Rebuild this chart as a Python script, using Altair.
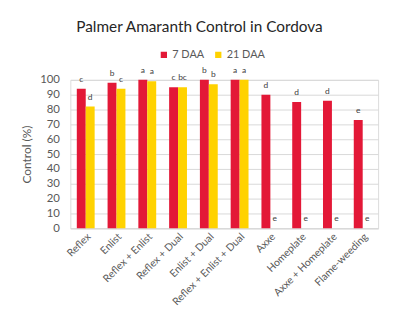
import altair as alt
import pandas as pd

treatments = ["Reflex", "Enlist", "Reflex + Enlist", "Reflex + Dual", "Enlist + Dual",
              "Reflex + Enlist + Dual", "Axxe", "Homeplate", "Axxe + Homeplate", "Flame-weeding"]
series = ["7 DAA", "21 DAA"]
daa7 = [94, 98, 100, 95, 100, 100, 90, 85, 86, 73]
daa21 = [82, 94, 99, 95, 97, 100, 0, 0, 0, 0]
letters7 = ["c", "b", "a", "c", "b", "a", "d", "d", "d", "e"]
letters21 = ["d", "c", "a", "bc", "b", "a", "e", "e", "e", "e"]
colors = ["#E31837", "#FFD200"]

rows = []
for i, t in enumerate(treatments):
    rows.append({"treatment": t, "series": series[0], "value": daa7[i], "letter": letters7[i]})
    rows.append({"treatment": t, "series": series[1], "value": daa21[i], "letter": letters21[i]})
df = pd.DataFrame(rows)

FONT = "Lato"

x = alt.X("treatment:N", sort=treatments, title=None,
          scale=alt.Scale(paddingInner=0.42, paddingOuter=0.21),
          axis=alt.Axis(labelAngle=-45, labelAlign="right", labelBaseline="top",
                        labelFontSize=10.5, labelColor="#595959", labelFont=FONT,
                        domainColor="#d9d9d9", ticks=False, labelPadding=3))
xo = alt.XOffset("series:N", sort=series, scale=alt.Scale(paddingInner=0, paddingOuter=0))
y = alt.Y("value:Q", title="Control (%)",
          scale=alt.Scale(domain=[0, 100]),
          axis=alt.Axis(values=list(range(0, 101, 10)), labelFontSize=11.5, labelColor="#595959",
                        labelFont=FONT, titleFont=FONT, titleFontSize=12, titleColor="#595959",
                        titleFontWeight="normal", domain=False, ticks=False, gridColor="#d9d9d9",
                        labelPadding=11, titlePadding=6))

bars = alt.Chart(df).mark_bar(stroke=None).encode(
    x=x, xOffset=xo, y=y,
    color=alt.Color("series:N", sort=series,
                    scale=alt.Scale(domain=series, range=colors),
                    legend=alt.Legend(title=None, orient="none", direction="horizontal",
                                      legendX=89, legendY=-31, symbolType="square",
                                      symbolSize=40, labelFontSize=11, labelFont=FONT,
                                      labelColor="#595959", symbolStrokeWidth=0,
                                      labelOffset=3, columnPadding=8)),
)

labels = alt.Chart(df).mark_text(baseline="bottom", dy=-5, fontSize=8.5, font=FONT,
                                 color="#404040").encode(
    x=x, xOffset=xo, y=y, text="letter:N")

chart = (bars + labels).properties(
    width=311, height=150,
    title=alt.TitleParams("Palmer Amaranth Control in Cordova", fontSize=15.5, font=FONT,
                          fontWeight="normal", color="#262626", anchor="middle",
                          frame="bounds", offset=14),
    padding={"left": 12, "top": 10, "right": 8, "bottom": 5},
).configure_view(stroke=None).configure(background="white")

chart.save("out.html", embed_options={"renderer": "svg", "actions": False})
